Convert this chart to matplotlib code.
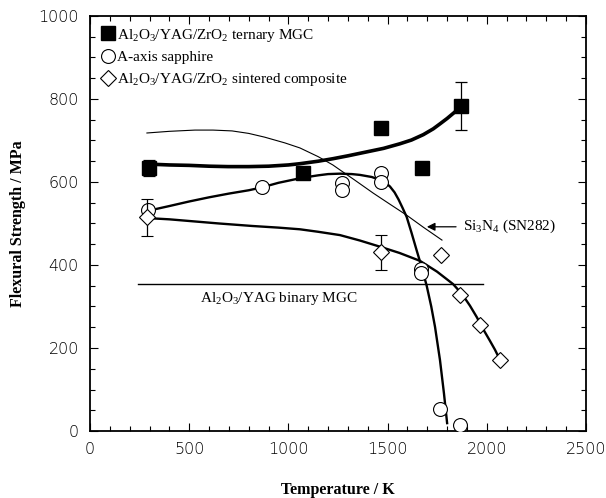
import numpy as np
import matplotlib.pyplot as plt
from matplotlib.lines import Line2D
from matplotlib.ticker import MultipleLocator

# measured points
T_mgc = [297, 1074, 1467, 1673, 1870]
S_mgc = [634, 622, 730, 634, 783]
E_mgc = [20, 0, 0, 0, 58]

T_sap = [293, 867, 1272, 1272, 1467, 1467, 1668, 1668, 1764, 1865]
S_sap = [532, 588, 598, 581, 622, 600, 390, 381, 53, 15]

T_sin = [289, 1467, 1769, 1865, 1966, 2067]
S_sin = [515, 431, 424, 328, 255, 171]
E_sin = [45, 42, 0, 0, 0, 0]

# fitted curves
T_mgc_fit = [297, 400, 500, 600, 696, 800, 900, 1000, 1058, 1150, 1224, 1300, 1400,
             1480, 1562, 1620, 1680, 1730, 1764, 1800, 1840, 1870]
S_mgc_fit = [643, 641, 640, 638, 637, 637, 638, 641, 644, 650, 656, 663, 673,
             681, 692, 701, 714, 728, 740, 753, 769, 783]

T_sap_fit = [287, 400, 500, 600, 700, 800, 867, 950, 1069, 1150, 1200, 1260, 1320,
             1361, 1420, 1462, 1490, 1512, 1535, 1555, 1575, 1596, 1621, 1646, 1671,
             1697, 1720, 1739, 1764, 1784, 1800]
S_sap_fit = [530, 542, 553, 563, 572, 580, 587, 598, 610, 616, 619, 620, 619,
             617, 612, 605, 598, 589, 575, 558, 538, 516, 477, 436, 396,
             350, 300, 251, 171, 91, 19]

T_sin_fit = [289, 400, 500, 650, 817, 950, 1058, 1150, 1260, 1360, 1462, 1560, 1663,
             1749, 1830, 1875, 1915, 1950, 1981, 2015, 2041, 2067]
S_sin_fit = [513, 510, 506, 500, 494, 490, 486, 480, 472, 459, 444, 429, 410,
             384, 354, 330, 302, 274, 246, 218, 196, 171]

T_si3n4 = [287, 400, 529, 620, 716, 800, 880, 983, 1058, 1150, 1224, 1260, 1330, 1428,
           1510, 1596, 1680, 1774]
S_si3n4 = [718, 722, 725, 725, 723, 717, 708, 694, 682, 661, 641, 629, 606, 573,
           547, 520, 491, 460]

T_binary = [242, 1980]
S_binary = [354, 354]

plt.rcParams['font.family'] = ['Liberation Serif', 'DejaVu Serif']
plt.rcParams['mathtext.fontset'] = 'custom'
plt.rcParams['mathtext.rm'] = 'Liberation Serif'
plt.rcParams['mathtext.it'] = 'Liberation Serif:italic'
plt.rcParams['mathtext.bf'] = 'Liberation Serif:bold'

fig = plt.figure(figsize=(6.06, 4.98), dpi=100)
ax = fig.add_axes([0.1485, 0.1345, 0.8185, 0.8335])

ax.plot(T_mgc_fit, S_mgc_fit, color='black', lw=2.6, solid_joinstyle='round')
ax.plot(T_sap_fit, S_sap_fit, color='black', lw=1.7, solid_joinstyle='round')
ax.plot(T_sin_fit, S_sin_fit, color='black', lw=1.7, solid_joinstyle='round')
ax.plot(T_si3n4, S_si3n4, color='black', lw=0.8)
ax.plot(T_binary, S_binary, color='black', lw=1.0)

ax.errorbar(T_mgc, S_mgc, yerr=E_mgc, fmt='s', color='black', ms=10,
            ecolor='black', elinewidth=0.9, capsize=4, capthick=0.9, zorder=5)
ax.plot(T_sap, S_sap, 'o', mfc='white', mec='black', ms=10, mew=0.8, zorder=4)
ax.errorbar(T_sin, S_sin, yerr=E_sin, fmt='D', mfc='white', mec='black', ms=8,
            mew=0.8, ecolor='black', elinewidth=0.9, capsize=4, capthick=0.9, zorder=4)

ax.annotate(r'Si$_{\mathrm{3}}$N$_{\mathrm{4}}$ (SN282)', xy=(1698, 492),
            xytext=(1880, 492), va='center', ha='left', fontsize=11,
            arrowprops=dict(arrowstyle='-|>', color='black', lw=0.9,
                            shrinkA=3, shrinkB=0, mutation_scale=12))
ax.text(554, 320, r'Al$_{\mathrm{2}}$O$_{\mathrm{3}}$/YAG binary MGC',
        fontsize=11, va='center')

ax.set_xlim(0, 2500)
ax.set_ylim(0, 1000)
ax.xaxis.set_major_locator(MultipleLocator(500))
ax.xaxis.set_minor_locator(MultipleLocator(100))
ax.yaxis.set_major_locator(MultipleLocator(200))
ax.yaxis.set_minor_locator(MultipleLocator(50))
ax.tick_params(which='both', direction='in', top=True, right=True, width=0.8)
ax.tick_params(which='major', length=6, labelsize=11.5, pad=8)
ax.tick_params(which='minor', length=3.5)
for lab in ax.get_xticklabels() + ax.get_yticklabels():
    lab.set_family('DejaVu Sans')
    lab.set_fontweight('light')
for sp in ax.spines.values():
    sp.set_linewidth(1.3)

ax.set_xlabel('Temperature / K', fontsize=11.5, fontweight='bold', labelpad=18)
ax.set_ylabel('Flexural Strength / MPa', fontsize=11.5, fontweight='bold', labelpad=9)

handles = [
    Line2D([], [], ls='none', marker='s', color='black', ms=10),
    Line2D([], [], ls='none', marker='o', mfc='white', mec='black', ms=10, mew=0.8),
    Line2D([], [], ls='none', marker='D', mfc='white', mec='black', ms=8, mew=0.8),
]
labels = [r'Al$_{\mathrm{2}}$O$_{\mathrm{3}}$/YAG/ZrO$_{\mathrm{2}}$ ternary MGC',
          'A-axis sapphire',
          r'Al$_{\mathrm{2}}$O$_{\mathrm{3}}$/YAG/ZrO$_{\mathrm{2}}$ sintered composite']
ax.legend(handles, labels, loc='upper left', frameon=False, fontsize=11,
          handletextpad=0.1, handlelength=1.0, borderaxespad=0.3, labelspacing=0.45)

fig.savefig('out.png', dpi=100)
